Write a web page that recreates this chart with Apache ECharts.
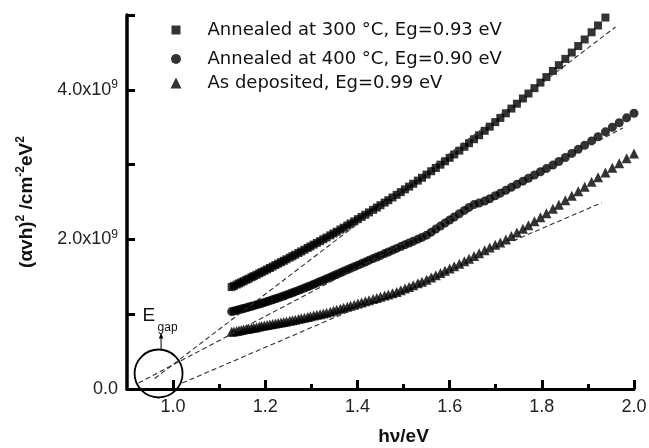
<!DOCTYPE html>
<html><head><meta charset="utf-8">
<script src="https://cdn.jsdelivr.net/npm/echarts@6/dist/echarts.min.js"></script>
<style>html,body{margin:0;padding:0;background:#fff}#c{width:649px;height:448px}</style>
</head><body><div id="c"></div>
<script>
// photon energy (eV)
const hv = [1.127,1.132,1.138,1.143,1.148,1.153,1.159,1.164,1.170,1.175,1.181,1.187,1.192,1.198,1.204,1.210,1.216,1.222,1.228,1.234,
1.240,1.246,1.253,1.259,1.265,1.272,1.278,1.285,1.292,1.298,1.305,1.312,1.319,1.326,1.333,1.341,1.348,1.355,1.363,1.370,
1.378,1.385,1.393,1.401,1.409,1.417,1.425,1.434,1.442,1.450,1.459,1.467,1.476,1.485,1.494,1.503,1.512,1.521,1.531,1.540,
1.550,1.560,1.570,1.580,1.590,1.600,1.610,1.621,1.632,1.642,1.653,1.664,1.676,1.687,1.699,1.710,1.722,1.734,1.746,1.759,
1.771,1.784,1.797,1.810,1.824,1.837,1.851,1.865,1.879,1.893,1.908,1.922,1.938,1.953,1.968,1.984,2.000];
// (alpha h nu)^2 in units of 1e9 cm^-2 eV^2
const annealed300 = [1.363,1.378,1.396,1.411,1.426,1.442,1.460,1.475,1.494,1.509,1.527,1.546,1.562,1.580,1.599,1.618,1.637,1.657,1.676,1.695,
1.714,1.734,1.756,1.776,1.796,1.819,1.839,1.862,1.886,1.906,1.930,1.953,1.977,2.002,2.026,2.054,2.079,2.103,2.132,2.157,
2.186,2.212,2.241,2.271,2.300,2.330,2.361,2.395,2.426,2.457,2.492,2.524,2.560,2.596,2.632,2.669,2.706,2.744,2.786,2.824,
2.867,2.911,2.955,2.999,3.044,3.090,3.136,3.187,3.238,3.286,3.339,3.392,3.452,3.507,3.568,3.624,3.686,3.749,3.814,3.884,
3.950,4.022,4.096,4.170,4.252,4.329,4.413,4.498,4.585,4.673,4.769,4.860,4.966];
const annealed400 = [1.035,1.042,1.052,1.060,1.068,1.076,1.086,1.095,1.105,1.114,1.125,1.136,1.146,1.157,1.169,1.181,1.193,1.206,1.218,1.231,
1.244,1.258,1.273,1.287,1.301,1.318,1.332,1.349,1.367,1.382,1.400,1.418,1.437,1.455,1.474,1.495,1.514,1.533,1.554,1.573,
1.594,1.613,1.634,1.656,1.677,1.698,1.720,1.744,1.765,1.786,1.810,1.832,1.856,1.880,1.904,1.928,1.952,1.976,2.003,2.027,
2.057,2.097,2.138,2.178,2.218,2.259,2.299,2.343,2.388,2.428,2.465,2.487,2.512,2.544,2.583,2.618,2.657,2.696,2.736,2.779,
2.818,2.861,2.904,2.947,2.993,3.041,3.095,3.150,3.204,3.258,3.317,3.373,3.438,3.499,3.560,3.625,3.686];
const asDeposited = [0.764,0.769,0.777,0.782,0.788,0.794,0.801,0.807,0.814,0.820,0.827,0.835,0.841,0.848,0.855,0.862,0.869,0.876,0.883,0.890,
0.897,0.904,0.912,0.919,0.927,0.937,0.945,0.954,0.964,0.972,0.982,0.992,1.001,1.011,1.020,1.032,1.045,1.058,1.072,1.085,
1.100,1.113,1.128,1.142,1.157,1.172,1.187,1.203,1.218,1.233,1.250,1.265,1.281,1.298,1.320,1.343,1.365,1.388,1.413,1.435,
1.460,1.490,1.520,1.550,1.580,1.610,1.640,1.673,1.707,1.741,1.778,1.816,1.856,1.891,1.927,1.960,1.998,2.045,2.091,2.142,
2.188,2.242,2.296,2.350,2.409,2.464,2.525,2.585,2.645,2.705,2.770,2.830,2.896,2.957,3.018,3.084,3.150];
// linear fits (dashed), end points [hv, value]
const fit300 = [[0.960, 0.14], [1.960, 4.84]];
const fit400 = [[0.925, 0.08], [1.976, 3.49]];
const fitAsDep = [[1.020, 0.08], [1.930, 2.49]];
const seriesNames = ['Annealed at 300 °C, Eg=0.93 eV', 'Annealed at 400 °C, Eg=0.90 eV', 'As deposited, Eg=0.99 eV'];
const xMajorTicks = [1.0, 1.2, 1.4, 1.6, 1.8, 2.0];
const xMinorTicks = [1.1, 1.3, 1.5, 1.7, 1.9];
const yTicks = [0, 1, 2, 3, 4, 5];
const yLabelValues = [0, 2, 4];
const egapMarker = [0.9685, 0.207];

const FONT = 'Liberation Sans, Arial, sans-serif';
const pairs = ys => ys.map((y, i) => [hv[i], y]);
const chart = echarts.init(document.getElementById('c'), null, {renderer: 'canvas'});

const legendBase = (name, icon, size, top, pad) => ({
  data: [{name: name, icon: icon}], left: 176 - size / 2, top: top, orient: 'vertical',
  itemWidth: size, itemHeight: size, padding: 0, selectedMode: false,
  formatter: n => '{t|' + n + '}',
  textStyle: {fontFamily: 'DejaVu Sans', fontSize: 18, color: '#111',
    rich: {t: {fontFamily: 'DejaVu Sans', fontSize: 18, color: '#111', lineHeight: 20, padding: [0, 0, 0, pad]}}}
});

const dashStyle = {type: [5, 3], width: 1.1, color: '#333'};

chart.setOption({
  animation: false,
  backgroundColor: '#fff',
  grid: {left: 127, right: 15, top: 15, bottom: 59, containLabel: false, outerBoundsMode: 'none'},
  legend: [
    legendBase(seriesNames[0], 'rect', 9, 21, 22),
    legendBase(seriesNames[1], 'circle', 10, 50, 21.5),
    legendBase(seriesNames[2], 'triangle', 11, 74, 21)
  ],
  xAxis: [{
    type: 'value', min: 0.9, max: 2.0,
    name: 'hν/eV', nameLocation: 'middle', nameGap: 38,
    nameTextStyle: {fontFamily: FONT, fontSize: 19, fontWeight: 'bold', color: '#111', padding: [0, 0, 0, 46]},
    axisLine: {show: true, onZero: false, lineStyle: {color: '#000', width: 3}},
    axisTick: {show: true, inside: true, length: 9, customValues: xMajorTicks, lineStyle: {color: '#000', width: 3}},
    axisLabel: {show: true, margin: 9, customValues: xMajorTicks, fontFamily: FONT, fontSize: 18, color: '#222',
      formatter: v => v.toFixed(1)},
    splitLine: {show: false}
  }, {
    type: 'value', min: 0.9, max: 2.0, position: 'bottom', offset: 0,
    axisLine: {show: false},
    axisTick: {show: true, inside: true, length: 5, customValues: xMinorTicks, lineStyle: {color: '#000', width: 3}},
    axisLabel: {show: false},
    splitLine: {show: false}
  }],
  yAxis: {
    type: 'value', min: 0, max: 5,
    name: '(αvh){s|2} /cm{s|-2}eV{s|2}', nameLocation: 'middle', nameGap: 88,
    nameTextStyle: {fontFamily: FONT, fontSize: 19, fontWeight: 'bold', color: '#111', lineHeight: 24,
      rich: {s: {fontFamily: FONT, fontSize: 12, fontWeight: 'bold', color: '#111', verticalAlign: 'top', lineHeight: 10}}},
    axisLine: {show: true, onZero: false, lineStyle: {color: '#000', width: 3.5}},
    axisTick: {show: true, inside: true, length: 8, customValues: yTicks, lineStyle: {color: '#000', width: 3}},
    axisLabel: {show: true, margin: 9, customValues: yLabelValues,
      formatter: v => v === 0 ? '{a|0.0}' : '{a|' + v.toFixed(1) + 'x10}{s|9}',
      rich: {
        a: {fontFamily: FONT, fontSize: 18, color: '#222', lineHeight: 22},
        s: {fontFamily: FONT, fontSize: 12, color: '#222', lineHeight: 9, verticalAlign: 'top'}
      }},
    splitLine: {show: false}
  },
  series: [
    {name: seriesNames[0], type: 'scatter', data: pairs(annealed300), symbol: 'rect', symbolSize: 8,
      itemStyle: {color: '#000'}, z: 2},
    {name: seriesNames[1], type: 'scatter', data: pairs(annealed400), symbol: 'circle', symbolSize: 9,
      itemStyle: {color: '#000'}, z: 2},
    {name: seriesNames[2], type: 'scatter', data: pairs(asDeposited), symbol: 'triangle', symbolSize: 10,
      itemStyle: {color: '#000'}, z: 2},
    {name: 'fit300', type: 'line', data: fit300, symbol: 'none', lineStyle: dashStyle, silent: true, z: 3},
    {name: 'fit400', type: 'line', data: fit400, symbol: 'none', lineStyle: dashStyle, silent: true, z: 3},
    {name: 'fitAsDep', type: 'line', data: fitAsDep, symbol: 'none', lineStyle: dashStyle, silent: true, z: 3}
  ]
});

// E_gap annotation anchored to data coordinates
const c = chart.convertToPixel({xAxisIndex: 0, yAxisIndex: 0}, egapMarker);
chart.setOption({
  graphic: [
    {type: 'circle', shape: {cx: c[0], cy: c[1], r: 24}, style: {fill: 'none', stroke: '#000', lineWidth: 1.8}, z: 10},
    {type: 'line', shape: {x1: c[0] + 2.5, y1: c[1] - 24, x2: c[0] + 2.5, y2: c[1] - 36}, style: {stroke: '#000', lineWidth: 1}, z: 10},
    {type: 'polygon', shape: {points: [[c[0] + 2.5, c[1] - 41], [c[0] + 0.3, c[1] - 35], [c[0] + 4.7, c[1] - 35]]}, style: {fill: '#000'}, z: 10},
    {type: 'text', x: c[0] - 16, y: c[1] - 67, style: {text: 'E', fontFamily: FONT, fontSize: 19, fill: '#111'}, z: 10},
    {type: 'text', x: c[0] - 1, y: c[1] - 52, style: {text: 'gap', fontFamily: FONT, fontSize: 12, fill: '#111'}, z: 10}
  ]
});
</script>
</body></html>
